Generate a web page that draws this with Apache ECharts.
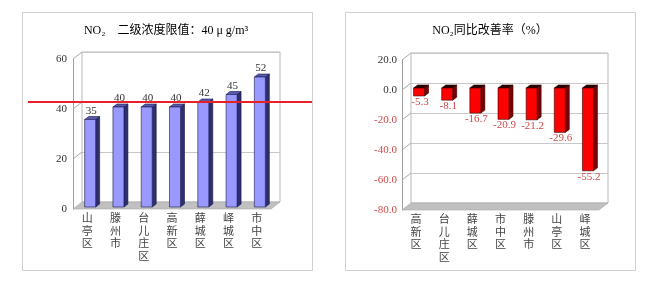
<!DOCTYPE html>
<html>
<head>
<meta charset="utf-8">
<script src="https://cdn.jsdelivr.net/npm/echarts@6/dist/echarts.min.js"></script>
<style>
  html, body { margin: 0; padding: 0; background: #fff; }
  #main { width: 653px; height: 294px; }
</style>
</head>
<body>
<div id="main"></div>
<script>
// left chart: NO2 concentration
var leftCats = ['山亭区', '滕州市', '台儿庄区', '高新区', '薛城区', '峄城区', '市中区'];
var leftVals = [35, 40, 40, 40, 42, 45, 52];
var limitVal = 40;
// right chart: year-on-year improvement
var rightCats = ['高新区', '台儿庄区', '薛城区', '市中区', '滕州市', '山亭区', '峄城区'];
var rightVals = [-5.3, -8.1, -16.7, -20.9, -21.2, -29.6, -55.2];

var leftTitle = 'NO₂    二级浓度限值：40 μ g/m³';
var rightTitle = 'NO₂同比改善率（%）';

var numFont = '"Liberation Serif", "Noto Sans CJK SC", serif';
var cjkFont = '"Noto Sans CJK SC", sans-serif';

// front plane and back wall of each pseudo-3D plot
var L = { left: 73, top: 59, width: 198, height: 150 };
var R = { left: 402, top: 60, width: 197, height: 150 };
var DX = 9, DY = -7;

function back(g) {
    return { left: g.left + DX, top: g.top + DY, width: g.width, height: g.height };
}

function bar3d(front, side, topc, stroke, labelColor, below, fmt) {
    return function (params, api) {
        var c = api.coord([api.value(0), api.value(1)]);
        var b = api.coord([api.value(0), 0]);
        var w = 11, d = 4, e = -3, sx = 3, sy = -2;
        var x0 = c[0] - w / 2 + sx;
        var yTop = Math.min(c[1], b[1]) + sy;
        var yBot = Math.max(c[1], b[1]) + sy;
        var ls = { stroke: stroke, lineWidth: 0.6 };
        var children = [
            { type: 'polygon', shape: { points: [[x0 + w, yTop], [x0 + w + d, yTop + e], [x0 + w + d, yBot + e], [x0 + w, yBot]] },
              style: Object.assign({ fill: side }, ls) },
            { type: 'polygon', shape: { points: [[x0, yTop], [x0 + d, yTop + e], [x0 + w + d, yTop + e], [x0 + w, yTop]] },
              style: Object.assign({ fill: topc }, ls) },
            { type: 'rect', shape: { x: x0, y: yTop, width: w, height: yBot - yTop },
              style: Object.assign({ fill: front }, ls) },
            { type: 'text', x: x0 + w / 2 + 1, y: below ? yBot + 0.5 : yTop - 3,
              style: { text: fmt(api.value(1)), fill: labelColor, font: '11px ' + numFont,
                       textAlign: 'center', textVerticalAlign: below ? 'top' : 'bottom' } }
        ];
        return { type: 'group', children: children };
    };
}

function vertical(v) { return v.split('').join('\n'); }

var chart = echarts.init(document.getElementById('main'));

var catAxisLabel = {
    formatter: vertical, fontSize: 11, lineHeight: 12.5, color: '#444',
    fontFamily: cjkFont, margin: 3, verticalAlign: 'top'
};

chart.setOption({
    animation: false,
    backgroundColor: '#fff',
    title: [
        { text: leftTitle, left: 161, top: 20, textAlign: 'center',
          textStyle: { fontSize: 12, fontWeight: 'normal', color: '#000', fontFamily: numFont } },
        { text: rightTitle, left: 485, top: 20, textAlign: 'center',
          textStyle: { fontSize: 12, fontWeight: 'normal', color: '#000', fontFamily: numFont } }
    ],
    grid: [
        Object.assign({ show: false }, L),
        Object.assign({ show: true, borderColor: '#b8b8b8', borderWidth: 1, backgroundColor: '#fff', z: 0 }, back(L)),
        Object.assign({ show: false }, R),
        Object.assign({ show: true, borderColor: '#b8b8b8', borderWidth: 1, backgroundColor: '#fff', z: 0 }, back(R))
    ],
    xAxis: [
        { type: 'category', gridIndex: 0, data: leftCats, axisLine: { show: false }, axisTick: { show: false },
          axisLabel: catAxisLabel },
        { type: 'category', gridIndex: 1, data: leftCats, show: false },
        { type: 'category', gridIndex: 2, data: rightCats, position: 'bottom', axisLine: { show: false, onZero: false },
          axisTick: { show: false }, axisLabel: catAxisLabel },
        { type: 'category', gridIndex: 3, data: rightCats, show: false }
    ],
    yAxis: [
        { type: 'value', gridIndex: 0, min: 0, max: 60, interval: 20,
          axisLine: { show: true, lineStyle: { color: '#a0a0a0' } }, axisTick: { show: false },
          splitLine: { show: false },
          axisLabel: { fontSize: 11, color: '#333', fontFamily: numFont, margin: 6 } },
        { type: 'value', gridIndex: 1, min: 0, max: 60, interval: 20,
          axisLine: { show: false }, axisTick: { show: false }, axisLabel: { show: false },
          splitLine: { show: true, lineStyle: { color: '#c8c8c8' } } },
        { type: 'value', gridIndex: 2, min: -80, max: 20, interval: 20,
          axisLine: { show: true, lineStyle: { color: '#a0a0a0' } }, axisTick: { show: false },
          splitLine: { show: false },
          axisLabel: { fontSize: 11, fontFamily: numFont, margin: 5,
                       formatter: function (v) { return v.toFixed(1); },
                       color: function (v) { return v < 0 ? '#d04848' : '#333'; } } },
        { type: 'value', gridIndex: 3, min: -80, max: 20, interval: 20,
          axisLine: { show: false }, axisTick: { show: false }, axisLabel: { show: false },
          splitLine: { show: true, lineStyle: { color: '#c8c8c8' } } }
    ],
    series: [
        { type: 'custom', xAxisIndex: 0, yAxisIndex: 0, z: 5,
          data: leftVals.map(function (v, i) { return [i, v]; }),
          renderItem: bar3d('#9999ff', '#2e2e70', '#5a5ab0', '#1a1a4a', '#333', false,
                            function (v) { return String(v); }) },
        { type: 'custom', xAxisIndex: 2, yAxisIndex: 2, z: 5,
          data: rightVals.map(function (v, i) { return [i, v]; }),
          renderItem: bar3d('#ff0000', '#7a0000', '#2a0000', '#300000', '#d04848', true,
                            function (v) { return v.toFixed(1); }) }
    ]
});

// pseudo-3D frame: floor, side wall edges, panel boxes, limit line
function frame(g, yIdx, ticks) {
    var b = back(g);
    var els = [];
    var fy = g.top + g.height, by = b.top + b.height;
    els.push({ type: 'polygon', z: 1, shape: { points: [[g.left, fy], [g.left + g.width, fy], [b.left + b.width, by], [b.left, by]] },
               style: { fill: '#c0c0c0', stroke: '#a8a8a8', lineWidth: 0.6 } });
    ticks.forEach(function (t) {
        var y = chart.convertToPixel({ yAxisIndex: yIdx }, t);
        els.push({ type: 'line', z: 1, shape: { x1: g.left, y1: y, x2: b.left, y2: y + DY },
                   style: { stroke: '#a8a8a8', lineWidth: 1 } });
    });
    return els;
}

var graphics = [
    { type: 'rect', z: -1, shape: { x: 22.5, y: 12.5, width: 290, height: 258 }, style: { fill: 'none', stroke: '#cfcfcf' } },
    { type: 'rect', z: -1, shape: { x: 345.5, y: 12.5, width: 290, height: 258 }, style: { fill: 'none', stroke: '#cfcfcf' } }
];
graphics = graphics.concat(frame(L, 0, [60, 40, 20]), frame(R, 2, [20, 0, -20, -40, -60]));

var limitY = chart.convertToPixel({ yAxisIndex: 1 }, limitVal);
graphics.push({ type: 'line', z: 20, shape: { x1: 28, y1: limitY, x2: 312, y2: limitY },
                style: { stroke: '#e8202a', lineWidth: 2.2 } });

chart.setOption({ graphic: graphics });
</script>
</body>
</html>
